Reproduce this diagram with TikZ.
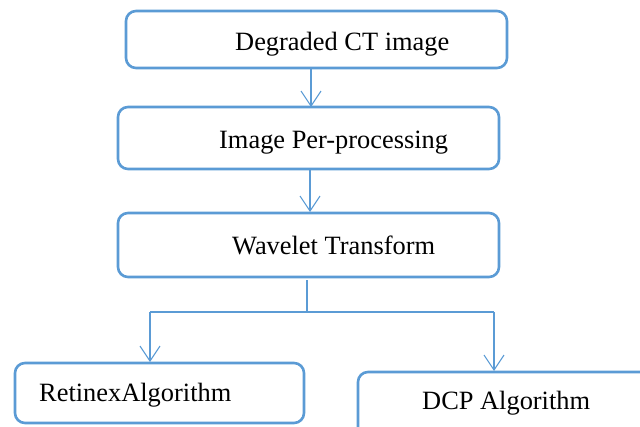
\documentclass[tikz,border=0pt]{standalone}
\usepackage{fontspec}
\setmainfont{Liberation Serif}
\usetikzlibrary{arrows.meta}
\definecolor{flowblue}{HTML}{5B9BD5}
\tikzset{
  stagebox/.style={draw=flowblue, line width=2.6pt, rounded corners=10pt, fill=white},
  label/.style={inner sep=0pt, font=\fontsize{26.4}{30}\selectfont, text=black},
  link/.style={draw=flowblue, line width=1.1pt, -{Straight Barb[length=15pt,width=20pt,line width=1.1pt]}},
  plain/.style={draw=flowblue, line width=1.1pt}
}
\begin{document}
\begin{tikzpicture}[x=1pt,y=-1pt]
\useasboundingbox (0,0) rectangle (640,426);
\clip (0,0) rectangle (640,426);

% stage boxes
\draw[stagebox] (126,11) rectangle (507,68);
\draw[stagebox] (118,107) rectangle (499,169);
\draw[stagebox] (118,213) rectangle (499,277);
\draw[stagebox] (15,363) rectangle (304,423);
\draw[stagebox] (358,372) rectangle (680,460);

% named anchors on the box edges
\coordinate (b1s) at (311,68);
\coordinate (b2n) at (311,107);
\coordinate (b2s) at (310,169);
\coordinate (b3n) at (310,212);
\coordinate (b3s) at (307,280);
\coordinate (fork) at (307,312);
\coordinate (forkL) at (150,312);
\coordinate (forkR) at (494,312);
\coordinate (b4n) at (150,362);
\coordinate (b5n) at (494,371);

% labels
\node[label, anchor=base west] (t1) at (235,50) {Degraded CT image};
\node[label, anchor=base west] (t2) at (219,148) {Image Per-processing};
\node[label, anchor=base west] (t3) at (232,254) {Wavelet Transform};
\node[label, anchor=base west] (t4) at (39,401) {RetinexAlgorithm};
\node[label, anchor=base west] (t5) at (422,409) {DCP Algorithm};

% connectors
\draw[link] (b1s) -- (b2n);
\draw[link] (b2s) -- (b3n);
\draw[plain] (b3s) -- (fork);
\draw[plain] (forkL) -- (forkR);
\draw[link] (forkL) -- (b4n);
\draw[link] (forkR) -- (b5n);
\end{tikzpicture}
\end{document}
